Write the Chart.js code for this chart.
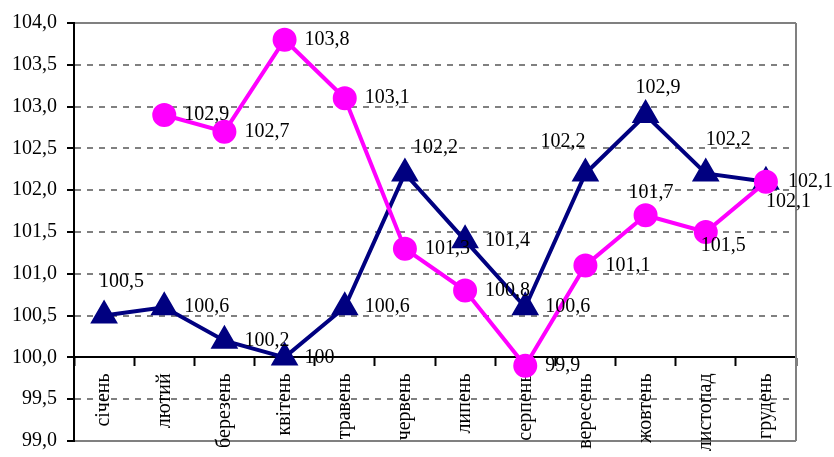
<!DOCTYPE html>
<html>
<head>
<meta charset="utf-8">
<script src="https://cdn.jsdelivr.net/npm/chart.js@4/dist/chart.umd.min.js"></script>
<style>
    html, body { margin: 0; padding: 0; background: #fff; }
    #wrap { width: 834px; height: 457px; }
</style>
</head>
<body>
<div id="wrap"><canvas id="chart"></canvas></div>
<script>
// Місяці та значення
const months = ['січень', 'лютий', 'березень', 'квітень', 'травень', 'червень',
    'липень', 'серпень', 'вересень', 'жовтень', 'листопад', 'грудень'];
const navyValues = [100.5, 100.6, 100.2, 100, 100.6, 102.2, 101.4, 100.6, 102.2, 102.9, 102.2, 102.1];
const pinkValues = [null, 102.9, 102.7, 103.8, 103.1, 101.3, 100.8, 99.9, 101.1, 101.7, 101.5, 102.1];
const yTickValues = [99.0, 99.5, 100.0, 100.5, 101.0, 101.5, 102.0, 102.5, 103.0, 103.5, 104.0];

// Зсув підписів відносно точки [dx, dy]
const navyLabelShift = [[-5, -34], [20, 0], [20, 0], [20, 0], [20, 0], [8, -26],
    [20, 0], [20, 0], [-45, -32], [-10, -27], [0, -34], [0, 20]];
const pinkLabelShift = [null, [20, 0], [20, 0], [20, 0], [20, 0], [20, 0],
    [20, 0], [20, 0], [20, 0], [-17, -23], [-5, 14], [22, 0]];

const serif = "'Liberation Serif', 'Times New Roman', serif";
const comma = v => String(v).replace('.', ',');

// Права рамка сірим
const framePlugin = {
    id: 'frame',
    beforeDatasetsDraw(chart) {
        const { ctx, chartArea: a } = chart;
        ctx.save();
        ctx.strokeStyle = '#808080';
        ctx.lineWidth = 2;
        ctx.beginPath();
        ctx.moveTo(a.right, a.top);
        ctx.lineTo(a.right, a.bottom);
        ctx.stroke();
        ctx.restore();
    }
};

// Підписи значень біля точок
const valueLabels = {
    id: 'valueLabels',
    afterDatasetsDraw(chart) {
        const ctx = chart.ctx;
        ctx.save();
        ctx.font = '20px ' + serif;
        ctx.fillStyle = '#000';
        ctx.textAlign = 'left';
        ctx.textBaseline = 'middle';
        chart.data.datasets.forEach((ds, i) => {
            const meta = chart.getDatasetMeta(i);
            meta.data.forEach((pt, j) => {
                const v = ds.data[j];
                const shift = ds.labelShift[j];
                if (v === null || !shift) return;
                ctx.fillText(comma(v), pt.x + shift[0], pt.y + shift[1]);
            });
        });
        ctx.restore();
    }
};

const ctx = document.getElementById('chart').getContext('2d');
new Chart(ctx, {
    type: 'line',
    data: {
        labels: months,
        datasets: [
            {
                data: navyValues,
                labelShift: navyLabelShift,
                borderColor: '#000080',
                backgroundColor: '#000080',
                borderWidth: 4,
                pointStyle: 'triangle',
                pointRadius: 12,
                pointHoverRadius: 12,
                tension: 0,
                order: 1
            },
            {
                data: pinkValues,
                labelShift: pinkLabelShift,
                borderColor: '#ff00ff',
                backgroundColor: '#ff00ff',
                borderWidth: 4,
                pointStyle: 'circle',
                pointRadius: 10,
                pointHoverRadius: 10,
                tension: 0,
                order: 0
            }
        ]
    },
    options: {
        responsive: true,
        maintainAspectRatio: false,
        animation: false,
        layout: { padding: { left: 0, top: 23, right: 38, bottom: 13 } },
        plugins: {
            legend: { display: false },
            tooltip: { enabled: false }
        },
        scales: {
            x: {
                type: 'category',
                offset: true,
                position: { y: 100 },
                afterFit: s => { s.paddingLeft = 0; s.paddingRight = 0; },
                grid: {
                    offset: true,
                    drawOnChartArea: false,
                    drawTicks: true,
                    tickLength: 8,
                    tickColor: '#000',
                    tickWidth: 2
                },
                border: { display: true, color: '#000', width: 2 },
                ticks: {
                    autoSkip: false,
                    minRotation: 90,
                    maxRotation: 90,
                    padding: 8,
                    color: '#000',
                    font: { family: serif, size: 20 }
                }
            },
            y: {
                min: 99,
                max: 104,
                afterBuildTicks: s => { s.ticks = yTickValues.map(v => ({ value: v })); },
                afterFit: s => { s.width = 74; s.paddingTop = 0; s.paddingBottom = 0; },
                grid: {
                    color: c => (c.tick && c.tick.value === 100) ? '#000' : '#808080',
                    lineWidth: 2,
                    tickLength: 7,
                    tickColor: '#000',
                    tickWidth: 2
                },
                border: {
                    display: true,
                    color: '#000',
                    width: 2,
                    dash: c => {
                        if (!c.tick) return [];
                        const v = c.tick.value;
                        return (v === 99 || v === 100 || v === 104) ? [] : [6, 6];
                    }
                },
                ticks: {
                    padding: 10,
                    color: '#000',
                    font: { family: serif, size: 20 },
                    callback: v => Number(v).toFixed(1).replace('.', ',')
                }
            }
        }
    },
    plugins: [framePlugin, valueLabels]
});
</script>
</body>
</html>
